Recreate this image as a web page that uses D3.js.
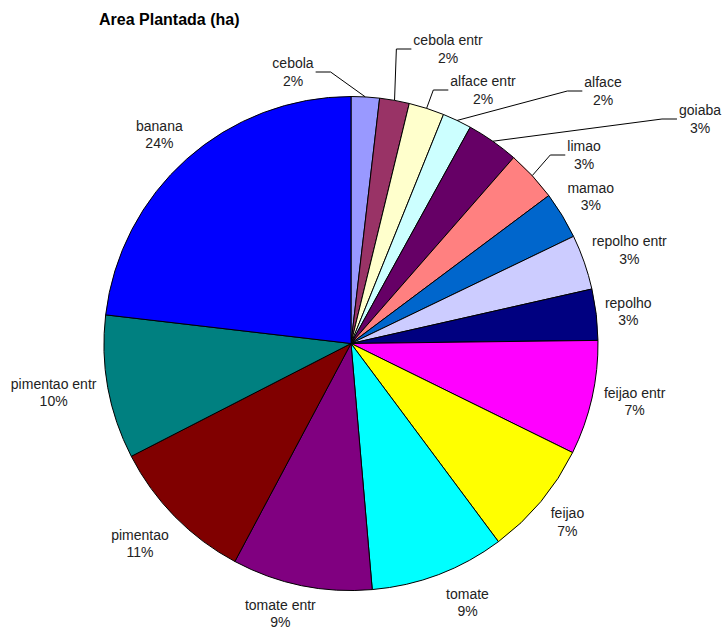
<!DOCTYPE html>
<html>
<head>
<meta charset="utf-8">
<script src="https://cdn.jsdelivr.net/npm/d3@7"></script>
<style>
  html, body { margin: 0; padding: 0; background: #fff; }
  svg { display: block; }
  text { font-family: "Liberation Sans", Arial, Helvetica, sans-serif; }
</style>
</head>
<body>
<svg id="chart" width="722" height="627"></svg>
<script>
// ---- data ----
const categories = ["cebola", "cebola entr", "alface entr", "alface", "goiaba", "limao", "mamao",
  "repolho entr", "repolho", "feijao entr", "feijao", "tomate", "tomate entr", "pimentao",
  "pimentao entr", "banana"];
const values = [1.85, 1.94, 2.32, 1.91, 3.42, 3.34, 3.08, 3.60, 3.34, 7.48, 7.54, 8.81, 9.16, 9.66, 9.40, 23.15];
const pctLabels = ["2%", "2%", "2%", "2%", "3%", "3%", "3%", "3%", "3%", "7%", "7%", "9%", "9%", "11%", "10%", "24%"];
const colors = ["#9999FF", "#993366", "#FFFFCC", "#CCFFFF", "#660066", "#FF8080", "#0066CC", "#CCCCFF",
  "#000080", "#FF00FF", "#FFFF00", "#00FFFF", "#800080", "#800000", "#008080", "#0000FF"];
const title = "Area Plantada (ha)";

// ---- layout ----
const cx = 351, cy = 343.5, R = 247;
const labelGap = 7;
// labels that were dragged away from their default place (block centres), with leader lines
const labelMoved = {
  "cebola": [293, 72],
  "cebola entr": [448, 49],
  "alface entr": [483, 90],
  "alface": [603, 91],
  "goiaba": [700, 119],
  "limao": [584, 155]
};
// small nudges of the automatically placed labels
const labelNudge = {
  "mamao": [-2, 0],
  "repolho entr": [0, 4],
  "repolho": [0, 1],
  "feijao entr": [3, -5],
  "feijao": [3, 1],
  "tomate": [18, 0],
  "tomate entr": [-15, -2],
  "pimentao": [-7, -1],
  "pimentao entr": [-3, -4],
  "banana": [-4, 2]
};

const svg = d3.select("#chart");

svg.append("text")
  .attr("x", 99).attr("y", 25)
  .attr("font-size", 16).attr("font-weight", "bold").attr("fill", "#000")
  .text(title);

const data = categories.map((c, i) => ({ name: c, value: values[i], pct: pctLabels[i], color: colors[i] }));
const pie = d3.pie().sort(null).value(d => d.value).startAngle(0).endAngle(2 * Math.PI);
const arcs = pie(data);
const arc = d3.arc().innerRadius(0).outerRadius(R);

const g = svg.append("g").attr("transform", `translate(${cx},${cy})`);
g.selectAll("path.slice").data(arcs).enter().append("path")
  .attr("class", "slice")
  .attr("d", arc)
  .attr("fill", d => d.data.color)
  .attr("stroke", "#000")
  .attr("stroke-width", 1)
  .attr("stroke-linejoin", "round");

// labels
const lineH = 17.5;
const labelG = svg.append("g");
arcs.forEach(d => {
  const a = (d.startAngle + d.endAngle) / 2;
  const dx = Math.sin(a), dy = -Math.cos(a);
  const t = labelG.append("text").attr("font-size", 14).attr("fill", "#222").attr("text-anchor", "middle");
  const t1 = t.append("tspan").text(d.data.name);
  const t2 = t.append("tspan").text(d.data.pct);
  const w = Math.max(t1.node().getComputedTextLength(), t2.node().getComputedTextLength());
  const h = 34;
  let lx, ly;
  const moved = labelMoved[d.data.name];
  if (moved) {
    lx = moved[0]; ly = moved[1];
    const px = cx + dx * R, py = cy + dy * R;
    const side = px > lx ? 1 : -1;
    const sx = lx + side * (w / 2 + 2);
    labelG.append("polyline")
      .attr("points", [[sx, ly], [sx + side * 15, ly], [px, py]].map(p => p.join(",")).join(" "))
      .attr("fill", "none").attr("stroke", "#000").attr("stroke-width", 1);
  } else {
    const dist = R + labelGap + Math.abs(dx) * w / 2 + Math.abs(dy) * h / 2;
    const n = labelNudge[d.data.name] || [0, 0];
    lx = cx + dx * dist + n[0]; ly = cy + dy * dist + n[1];
  }
  t1.attr("x", lx).attr("y", ly - 4);
  t2.attr("x", lx).attr("y", ly - 4 + lineH);
});
</script>
</body>
</html>
